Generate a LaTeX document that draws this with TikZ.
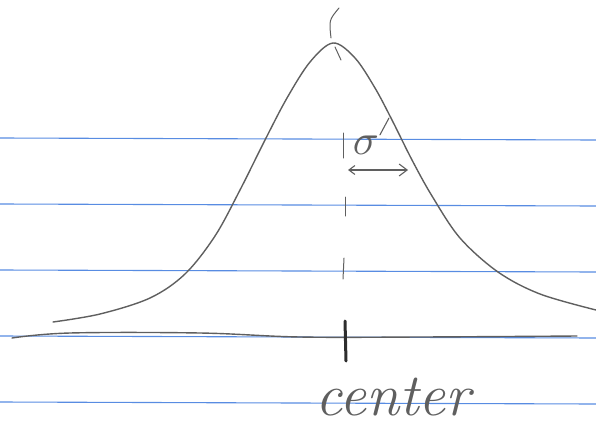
\documentclass[tikz,border=0pt]{standalone}
\usepackage{xcolor}
\usepackage{tikz}
\usetikzlibrary{arrows.meta, positioning}
\definecolor{ruleblue}{RGB}{88, 140, 226}
\definecolor{pencilgray}{RGB}{95, 95, 95}
\definecolor{pencildark}{RGB}{45, 45, 45}

\begin{document}
\begin{tikzpicture}[
    x=1pt, y=-1pt,
    ruled/.style={draw=ruleblue, line width=1.1pt},
    pencil/.style={draw=pencilgray, line width=1.4pt, line cap=round, line join=round},
    label/.style={text=pencilgray, inner sep=0pt}
]
    \useasboundingbox (0,0) rectangle (596,431);
    \foreach \y in {138, 204, 270, 336, 402}
        \draw[ruled] (0,\y) -- (596,\y+2);

    \draw[pencil] plot[smooth, tension=0.6] coordinates {
        (12,338) (70,333) (200,333) (300,337) (420,337) (577,336)};
    \draw[pencil] plot[smooth, tension=0.55] coordinates {
        (53,322) (100,314) (150,298) (185,274) (215,236) (240,190) (265,140)
        (287,98) (310,62) (333,43) (355,58) (375,88) (392,120) (412,160)
        (432,196) (460,238) (498,272) (540,294) (596,310)};

    \draw[pencil, line width=1pt] (339,8) .. controls (329,20) .. (331,38);
    \draw[pencil, line width=1pt] (335,47) -- (341,60);
    \draw[pencil, line width=1pt] (343,133) -- (343,158);
    \draw[pencil, line width=1pt] (345,197) -- (345,216);
    \draw[pencil, line width=1pt] (344,258) -- (343,279);
    \draw[draw=pencildark, line width=3pt, line cap=round] (345,321) -- (346,361);

    \coordinate (lead) at (389,118);
    \coordinate (sigmafoot) at (348,170);
    \coordinate (sigmaedge) at (408,170);
    \node[label, scale=4.3] (sigma) at (366,145) {$\sigma$};
    \draw[pencil, line width=1.1pt] (sigma.north east) -- (lead);
    \draw[pencil, line width=1.1pt, {Straight Barb[length=6pt, width=9pt]}-{Straight Barb[length=8pt, width=12pt]}]
        (sigmafoot) -- (sigmaedge);

    \node[label, font=\fontsize{60}{60}\selectfont\itshape, anchor=base] (center) at (393,415) {center};
\end{tikzpicture}
\end{document}
